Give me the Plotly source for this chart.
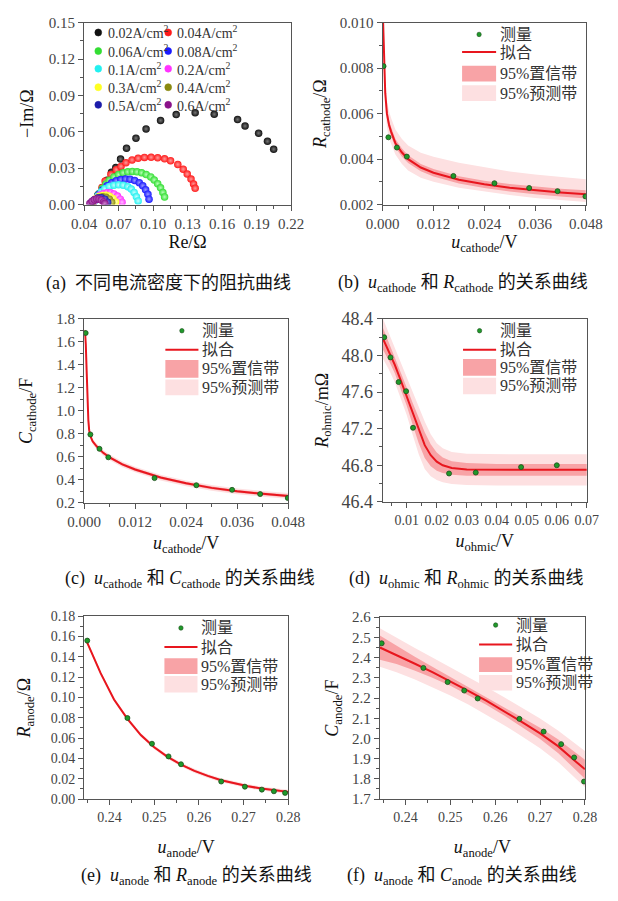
import plotly.graph_objects as go

W, H = 618, 901

SERIF = '"Liberation Serif", "Times New Roman", serif'
MIXED = '"Liberation Serif", "Noto Sans CJK SC", serif'

# ---------------- (a) impedance spectra at different current densities ----------------
density_labels = ["0.02A/cm<sup>2</sup>", "0.04A/cm<sup>2</sup>", "0.06A/cm<sup>2</sup>", "0.08A/cm<sup>2</sup>",
                  "0.1A/cm<sup>2</sup>", "0.2A/cm<sup>2</sup>", "0.3A/cm<sup>2</sup>", "0.4A/cm<sup>2</sup>",
                  "0.5A/cm<sup>2</sup>", "0.6A/cm<sup>2</sup>"]
density_colors = ["#111111", "#ff1a1a", "#33dd33", "#1a1aff", "#22f0f0", "#ff33ff", "#ffff22", "#8a8a10",
                   "#1c1caa", "#8a138a"]
density_glow = ["#777777", "#ff9a9a", "#b8ffb8", "#9a9aff", "#c8ffff", "#ffc0ff", "#ffffc8", "#d8d870",
                "#8888ee", "#d088d0"]

re_002 = [0.048, 0.052, 0.056, 0.060, 0.0638, 0.0676, 0.0717, 0.0769, 0.0851, 0.0939, 0.1065, 0.1201,
          0.1366, 0.1532, 0.1735, 0.1800, 0.1918, 0.1995, 0.2049]
im_002 = [0.002, 0.008, 0.014, 0.020, 0.0266, 0.0305, 0.0375, 0.0465, 0.0548, 0.0624, 0.0694, 0.0742,
          0.0758, 0.0745, 0.0702, 0.0648, 0.0589, 0.0522, 0.0457]
re_004 = [0.050, 0.053, 0.0556, 0.0583, 0.0633, 0.068, 0.0721, 0.0764, 0.0817, 0.0870, 0.0925, 0.0983,
          0.1040, 0.1100, 0.1152, 0.1215, 0.1262, 0.1297, 0.1330, 0.1352, 0.1366]
im_004 = [0.004, 0.009, 0.014, 0.0194, 0.0248, 0.0288, 0.0315, 0.0345, 0.0368, 0.0382, 0.0389, 0.0390,
          0.0386, 0.0377, 0.0362, 0.0331, 0.0292, 0.0252, 0.0210, 0.0170, 0.0134]
re_006 = [0.050, 0.053, 0.056, 0.059, 0.062, 0.066, 0.070, 0.074, 0.078, 0.082, 0.086, 0.090, 0.094,
          0.098, 0.101, 0.104, 0.1065, 0.1085, 0.110]
im_006 = [0.004, 0.009, 0.0135, 0.017, 0.020, 0.0228, 0.0248, 0.0262, 0.0270, 0.0273, 0.0270, 0.0262,
          0.0248, 0.0228, 0.0203, 0.0172, 0.0138, 0.0100, 0.0063]
re_008 = [0.050, 0.053, 0.056, 0.060, 0.064, 0.068, 0.072, 0.076, 0.080, 0.084, 0.088, 0.091, 0.0935,
          0.0955, 0.0965]
im_008 = [0.004, 0.0085, 0.012, 0.0155, 0.018, 0.0197, 0.0207, 0.0211, 0.0209, 0.0199, 0.0180, 0.0155,
          0.0122, 0.0085, 0.0045]
re_01 = [0.049, 0.052, 0.055, 0.058, 0.062, 0.066, 0.070, 0.074, 0.078, 0.081, 0.0835, 0.0855, 0.087]
im_01 = [0.003, 0.007, 0.0105, 0.0130, 0.0150, 0.0160, 0.0163, 0.0160, 0.0148, 0.0128, 0.0100, 0.0065, 0.003]
re_02 = [0.048, 0.051, 0.054, 0.057, 0.060, 0.063, 0.066, 0.069, 0.0715, 0.073]
im_02 = [0.002, 0.0055, 0.0078, 0.0092, 0.0098, 0.0097, 0.0088, 0.0070, 0.0045, 0.002]
re_03 = [0.047, 0.050, 0.053, 0.056, 0.059, 0.062, 0.065, 0.0675]
im_03 = [0.002, 0.0048, 0.0066, 0.0075, 0.0076, 0.0068, 0.0050, 0.0022]
re_04 = [0.047, 0.050, 0.053, 0.056, 0.059, 0.062, 0.064]
im_04 = [0.0018, 0.0042, 0.0058, 0.0064, 0.0060, 0.0045, 0.002]
re_05 = [0.046, 0.049, 0.052, 0.055, 0.058, 0.0605]
im_05 = [0.0015, 0.0040, 0.0054, 0.0056, 0.0045, 0.002]
re_06 = [0.045, 0.047, 0.049, 0.051, 0.053, 0.055, 0.057, 0.058]
im_06 = [0.0008, 0.0028, 0.0040, 0.0046, 0.0045, 0.0037, 0.0022, 0.0008]

nyquist_re = [re_002, re_004, re_006, re_008, re_01, re_02, re_03, re_04, re_05, re_06]
nyquist_im = [im_002, im_004, im_006, im_008, im_01, im_02, im_03, im_04, im_05, im_06]

# ---------------- (b) cathode resistance ----------------
ub_meas = [0.0002, 0.00134, 0.00335, 0.0057, 0.0167, 0.0264, 0.0346, 0.0413, 0.0479]
rb_meas = [0.00809, 0.00496, 0.00451, 0.00411, 0.00326, 0.00294, 0.00273, 0.00259, 0.00236]
ub_fit = [0.0001, 0.0003, 0.0006, 0.001, 0.0015, 0.002, 0.003, 0.0045, 0.006, 0.009, 0.012, 0.018,
          0.024, 0.030, 0.036, 0.042, 0.048]
rb_fit = [0.0100, 0.0081, 0.0069, 0.0060, 0.0055, 0.0052, 0.0047, 0.0043, 0.0040, 0.00363, 0.0034,
          0.00309, 0.00289, 0.00274, 0.00262, 0.00253, 0.00245]
rb_conf = [0.0004, 0.0003, 0.00025, 0.00022, 0.0002, 0.0002, 0.00019, 0.00018, 0.00017, 0.00016,
           0.00016, 0.00016, 0.00016, 0.00016, 0.00017, 0.00017, 0.00018]
rb_pred_up = [0.0008, 0.0008, 0.0007, 0.0006, 0.0006, 0.0006, 0.0006, 0.0006, 0.0006, 0.00065, 0.0007,
              0.00075, 0.00075, 0.00072, 0.0007, 0.00068, 0.00066]
rb_pred_dn = [0.0008, 0.0008, 0.0007, 0.0006, 0.0006, 0.00055, 0.0005, 0.0005, 0.0005, 0.00045, 0.0004,
              0.00035, 0.00032, 0.00032, 0.00033, 0.00034, 0.00034]

# ---------------- (c) cathode capacitance ----------------
uc_meas = [0.00037, 0.00148, 0.00362, 0.0057, 0.01657, 0.0264, 0.0348, 0.0414, 0.0479]
cc_meas = [1.678, 0.795, 0.670, 0.596, 0.415, 0.353, 0.313, 0.276, 0.242]
uc_fit = [0.0002, 0.0004, 0.0006, 0.0008, 0.001, 0.0012, 0.0015, 0.002, 0.003, 0.0045, 0.006, 0.009,
          0.012, 0.018, 0.024, 0.030, 0.036, 0.042, 0.048]
cc_fit = [1.70, 1.58, 1.35, 1.10, 0.92, 0.83, 0.78, 0.735, 0.69, 0.635, 0.595, 0.535, 0.49, 0.42, 0.37,
          0.33, 0.30, 0.278, 0.26]
cc_conf = 0.012
cc_pred = 0.025

# ---------------- (d) ohmic resistance ----------------
ud_meas = [0.0025, 0.0046, 0.0073, 0.0098, 0.0121, 0.0241, 0.0330, 0.0481, 0.0600]
rd_meas = [48.20, 47.98, 47.71, 47.61, 47.21, 46.71, 46.72, 46.78, 46.80]
ud_fit = [0.002, 0.004, 0.006, 0.008, 0.010, 0.012, 0.014, 0.016, 0.018, 0.020, 0.022, 0.025, 0.030,
          0.040, 0.050, 0.060, 0.070]
rd_fit = [48.19, 48.05, 47.90, 47.73, 47.55, 47.36, 47.18, 47.02, 46.91, 46.84, 46.80, 46.77, 46.755,
          46.75, 46.75, 46.75, 46.75]
rd_conf = [0.12, 0.10, 0.09, 0.09, 0.10, 0.12, 0.14, 0.14, 0.12, 0.10, 0.085, 0.075, 0.07, 0.065,
           0.065, 0.065, 0.065]
rd_pred = [0.22, 0.20, 0.19, 0.19, 0.20, 0.23, 0.26, 0.26, 0.23, 0.20, 0.185, 0.175, 0.17, 0.17,
           0.17, 0.17, 0.17]

# ---------------- (e) anode resistance ----------------
ue_meas = [0.2350, 0.2440, 0.2495, 0.2532, 0.2560, 0.2650, 0.2703, 0.2741, 0.2768, 0.2793]
re_meas = [0.156, 0.0798, 0.0545, 0.0420, 0.0343, 0.0173, 0.0122, 0.0093, 0.0077, 0.0061]
ue_fit = [0.2348, 0.238, 0.241, 0.244, 0.247, 0.250, 0.253, 0.256, 0.259, 0.262, 0.265, 0.268, 0.271,
          0.274, 0.277, 0.280]
re_fit = [0.156, 0.124, 0.098, 0.079, 0.063, 0.051, 0.0415, 0.034, 0.0278, 0.0228, 0.0186, 0.0153,
          0.0126, 0.0104, 0.0086, 0.0071]
re_conf = 0.001
re_pred = 0.002

# ---------------- (f) anode capacitance ----------------
uf_meas = [0.2347, 0.2440, 0.2494, 0.2531, 0.2561, 0.2654, 0.2708, 0.2747, 0.2776, 0.2798]
cf_meas = [2.471, 2.349, 2.279, 2.237, 2.198, 2.097, 2.034, 1.972, 1.906, 1.787]
uf_fit = [0.2343, 0.238, 0.242, 0.246, 0.250, 0.254, 0.258, 0.262, 0.266, 0.270, 0.274, 0.278, 0.280]
cf_fit = [2.450, 2.413, 2.371, 2.328, 2.283, 2.236, 2.187, 2.135, 2.081, 2.025, 1.962, 1.885, 1.848]
cf_conf = [0.06, 0.045, 0.035, 0.027, 0.022, 0.02, 0.02, 0.021, 0.024, 0.028, 0.034, 0.042, 0.047]
cf_pred = [0.095, 0.085, 0.078, 0.073, 0.07, 0.068, 0.068, 0.069, 0.071, 0.074, 0.078, 0.085, 0.09]

legend_names = ["测量", "拟合", "95%置信带", "95%预测带"]

FIT_RED = "#e8161e"
CONF_FILL = "#f8a3a6"
PRED_FILL = "#fde0e1"
PT_GREEN = "#1f9a2a"
PT_EDGE = "#1d4d1d"

fig = go.Figure()


def as_list(v, n):
    return v if isinstance(v, list) else [v] * n


def add_fit_panel(xa, ya, xm, ym, xf, yf, conf, pred_up, pred_dn=None):
    n = len(xf)
    conf = as_list(conf, n)
    pred_up = as_list(pred_up, n)
    pred_dn = as_list(pred_dn if pred_dn is not None else pred_up, n)
    common = dict(xaxis=xa, yaxis=ya, showlegend=False, hoverinfo="skip", mode="lines")
    fig.add_trace(go.Scatter(x=xf, y=[f - d for f, d in zip(yf, pred_dn)], line=dict(width=0), **common))
    fig.add_trace(go.Scatter(x=xf, y=[f + d for f, d in zip(yf, pred_up)], line=dict(width=0),
                             fill="tonexty", fillcolor=PRED_FILL, **common))
    fig.add_trace(go.Scatter(x=xf, y=[f - d for f, d in zip(yf, conf)], line=dict(width=0), **common))
    fig.add_trace(go.Scatter(x=xf, y=[f + d for f, d in zip(yf, conf)], line=dict(width=0),
                             fill="tonexty", fillcolor=CONF_FILL, **common))
    fig.add_trace(go.Scatter(x=xf, y=yf, line=dict(color=FIT_RED, width=2), **common))
    fig.add_trace(go.Scatter(x=xm, y=ym, mode="markers", xaxis=xa, yaxis=ya, showlegend=False,
                             marker=dict(size=5, color=PT_GREEN, line=dict(color=PT_EDGE, width=0.8))))


# (a) Nyquist plot
for rx, iy, col, glow, name in zip(nyquist_re, nyquist_im, density_colors, density_glow, density_labels):
    fig.add_trace(go.Scatter(x=rx, y=iy, mode="markers", xaxis="x", yaxis="y", showlegend=False, name=name,
                             marker=dict(size=7.5, color=col, line=dict(width=0),
                                         gradient=dict(type="radial", color=glow))))

add_fit_panel("x2", "y2", ub_meas, rb_meas, ub_fit, rb_fit, rb_conf, rb_pred_up, rb_pred_dn)
add_fit_panel("x3", "y3", uc_meas, cc_meas, uc_fit, cc_fit, cc_conf, cc_pred)
add_fit_panel("x4", "y4", ud_meas, rd_meas, ud_fit, rd_fit, rd_conf, rd_pred)
add_fit_panel("x5", "y5", ue_meas, re_meas, ue_fit, re_fit, re_conf, re_pred)
add_fit_panel("x6", "y6", uf_meas, cf_meas, uf_fit, cf_fit, cf_conf, cf_pred)


def dom_x(l, r):
    return [l / W, r / W]


def dom_y(t, b):
    return [1 - b / H, 1 - t / H]


AX_COL = "#555555"


def axis(domain, rng, dtick, fmt, minor, title, tfs=15, title_fs=18, standoff=6, tick0=None):
    d = dict(domain=domain, range=rng, dtick=dtick, tickformat=fmt, showgrid=False, zeroline=False,
             showline=True, linecolor=AX_COL, linewidth=1.3, mirror=True, ticks="outside",
             ticklen=5, tickwidth=1.1, tickcolor=AX_COL,
             minor=dict(dtick=minor, ticks="outside", ticklen=3, tickwidth=1, tickcolor=AX_COL),
             tickfont=dict(family=SERIF, size=tfs, color="#444444"),
             title=dict(text=title, font=dict(family=SERIF, size=title_fs, color="#111111"),
                        standoff=standoff))
    if tick0 is not None:
        d["tick0"] = tick0
        d["minor"]["tick0"] = tick0
    return d


u_cat = "<i>u</i><sub>cathode</sub>/V"
u_ohm = "<i>u</i><sub>ohmic</sub>/V"
u_an = "<i>u</i><sub>anode</sub>/V"

layout = dict(
    width=W, height=H, margin=dict(l=0, r=0, t=0, b=0),
    paper_bgcolor="white", plot_bgcolor="white", showlegend=False,
    xaxis=axis(dom_x(71, 290), [0.04, 0.22], 0.03, ".2f", 0.015, "Re/Ω", standoff=2, tick0=0.04),
    yaxis=axis(dom_y(13, 199), [0, 0.15], 0.03, ".2f", 0.015, "−Im/Ω", standoff=10),
    xaxis2=axis(dom_x(387, 602), [0, 0.048], 0.012, ".3f", 0.006, u_cat, standoff=1),
    yaxis2=axis(dom_y(13, 199), [0.002, 0.010], 0.002, ".3f", 0.001,
                "<i>R</i><sub>cathode</sub>/Ω", standoff=8),
    xaxis3=axis(dom_x(71, 287), [0, 0.048], 0.012, ".3f", 0.006, u_cat, standoff=7),
    yaxis3=axis(dom_y(316, 504), [0.2, 1.8], 0.2, ".1f", 0.1, "<i>C</i><sub>cathode</sub>/F", standoff=18),
    xaxis4=axis(dom_x(387, 603), [0.002, 0.07], 0.01, ".2f", 0.005, u_ohm, tfs=14, tick0=0, standoff=7),
    yaxis4=axis(dom_y(316, 503), [46.4, 48.4], 0.4, ".1f", 0.2, "<i>R</i><sub>ohmic</sub>/mΩ",
                tfs=18, standoff=8),
    xaxis5=axis(dom_x(71, 287), [0.2343, 0.28], 0.01, ".2f", 0.005, u_an, tfs=14, tick0=0.24, standoff=16),
    yaxis5=axis(dom_y(620, 807), [0, 0.18], 0.02, ".2f", 0.01, "<i>R</i><sub>anode</sub>/Ω",
                tfs=14, standoff=15),
    xaxis6=axis(dom_x(384, 601), [0.2343, 0.28], 0.01, ".2f", 0.005, u_an, tfs=14, tick0=0.24, standoff=16),
    yaxis6=axis(dom_y(621, 807), [1.7, 2.6], 0.1, ".1f", 0.05, "<i>C</i><sub>anode</sub>/F",
                tfs=15, standoff=8),
)
for k in ["2", "3", "4", "5", "6"]:
    layout["xaxis" + k]["anchor"] = "y" + k
    layout["yaxis" + k]["anchor"] = "x" + k
fig.update_layout(**layout)

shapes = []
annotations = []


def px2paper(x, y):
    return x / W, 1 - y / H


def legend_text(x, y, text, size=15):
    px, py = px2paper(x, y)
    annotations.append(dict(x=px, y=py, xref="paper", yref="paper", text=text, showarrow=False,
                            xanchor="left", yanchor="middle",
                            font=dict(family=MIXED, size=size, color="#333333")))


def circle(cx, cy, r, color, line_color=None):
    x0, y0 = px2paper(cx - r, cy + r)
    x1, y1 = px2paper(cx + r, cy - r)
    shapes.append(dict(type="circle", xref="paper", yref="paper", x0=x0, y0=y0, x1=x1, y1=y1,
                       fillcolor=color, line=dict(color=line_color or color, width=0.6)))


def rect(xl, xr, yt, yb, color):
    x0, y0 = px2paper(xl, yb)
    x1, y1 = px2paper(xr, yt)
    shapes.append(dict(type="rect", xref="paper", yref="paper", x0=x0, y0=y0, x1=x1, y1=y1,
                       fillcolor=color, line=dict(width=0)))


def hline(xl, xr, y, color, width):
    x0, y0 = px2paper(xl, y)
    x1, _ = px2paper(xr, y)
    shapes.append(dict(type="line", xref="paper", yref="paper", x0=x0, y0=y0, x1=x1, y1=y0,
                       line=dict(color=color, width=width)))


# (a) two-column legend
rows_y = [23, 42, 60, 79, 97]
for i, (lab, col) in enumerate(zip(density_labels, density_colors)):
    cx = 86 if i % 2 == 0 else 160
    tx = 94 if i % 2 == 0 else 167
    cy = rows_y[i // 2]
    circle(cx, cy, 3.6, col)
    legend_text(tx, cy, lab, size=14)


def fit_legend(sym_l, sym_r, text_x, y_mark, y_line, r1, r2):
    circle((sym_l + sym_r) / 2, y_mark, 2.3, PT_GREEN, PT_EDGE)
    hline(sym_l, sym_r, y_line, FIT_RED, 2)
    rect(sym_l, sym_r, r1[0], r1[1], CONF_FILL)
    rect(sym_l, sym_r, r2[0], r2[1], PRED_FILL)
    ys = [y_mark, y_line, (r1[0] + r1[1]) / 2, (r2[0] + r2[1]) / 2]
    for name, y in zip(legend_names, ys):
        legend_text(text_x, y, name, size=16)


fit_legend(471, 507, 509, 25, 43, (57, 73), (77, 93))
fit_legend(157, 192, 194, 328, 347.5, (358, 376), (378, 394))
fit_legend(472, 507, 509, 328, 347.5, (357, 374), (376, 393))
fit_legend(156, 191, 193, 632, 651.5, (663, 679), (681, 698))
fit_legend(489, 524, 526, 629, 649, (662, 677), (680, 696))

captions = [
    (160, 280, "(a)&nbsp;&nbsp;不同电流密度下的阻抗曲线"),
    (472, 280, "(b)&nbsp;&nbsp;<i>u</i><sub>cathode</sub> 和 <i>R</i><sub>cathode</sub> 的关系曲线"),
    (183, 582, "(c)&nbsp;&nbsp;<i>u</i><sub>cathode</sub> 和 <i>C</i><sub>cathode</sub> 的关系曲线"),
    (475, 582, "(d)&nbsp;&nbsp;<i>u</i><sub>ohmic</sub> 和 <i>R</i><sub>ohmic</sub> 的关系曲线"),
    (190, 886, "(e)&nbsp;&nbsp;<i>u</i><sub>anode</sub> 和 <i>R</i><sub>anode</sub> 的关系曲线"),
    (471, 886, "(f)&nbsp;&nbsp;<i>u</i><sub>anode</sub> 和 <i>C</i><sub>anode</sub> 的关系曲线"),
]
for cx, cy, txt in captions:
    px, py = px2paper(cx, cy)
    annotations.append(dict(x=px, y=py, xref="paper", yref="paper", text=txt, showarrow=False,
                            xanchor="center", yanchor="middle",
                            font=dict(family=MIXED, size=18, color="#111111")))

fig.update_layout(shapes=shapes, annotations=annotations)
fig.write_html("out.html")
